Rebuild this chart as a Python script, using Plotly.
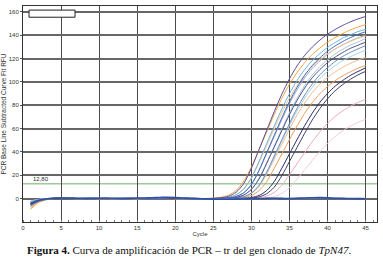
import plotly.graph_objects as go

cycles = list(range(1, 46))
threshold = 12.80
x_ticks = [0, 5, 10, 15, 20, 25, 30, 35, 40, 45]
y_ticks = [0, 20, 40, 60, 80, 100, 120, 140, 160]

curve_A = [-4.0,-1.5,-0.4,0.3,0.5,0.3,0.1,0.0,0.2,0.1,-0.1,0.0,0.2,0.3,0.1,0.0,-0.2,0.0,0.1,0.2,0.0,0.1,0.0,0.1,
           0.3,0.8,2.0,5.5,13.0,26.0,42.0,58.3,74.5,89.5,102.6,113.7,122.7,129.8,135.8,140.8,144.9,148.4,151.4,153.9,156.0]
curve_B = [-9.0,-3.5,-1.0,0.3,0.6,0.4,0.2,0.1,0.0,0.2,0.1,-0.1,0.0,0.2,0.1,0.0,0.1,0.2,0.0,-0.1,0.1,0.2,0.1,0.2,
           0.4,1.2,3.0,7.0,15.0,27.0,42.0,57.0,72.0,86.0,98.0,108.0,116.5,123.5,129.0,134.0,138.0,141.5,144.5,147.0,149.0]
curve_C = [-7.0,-2.8,-0.8,0.1,0.3,0.2,0.0,0.1,0.2,0.0,-0.1,0.1,0.2,0.1,0.0,0.1,0.2,0.0,0.1,0.0,0.1,0.2,0.0,0.1,
           0.1,0.45,1.2,3.2,8.1,17.2,30.7,45.2,59.6,73.6,86.2,97.1,106.1,113.3,119.2,124.2,128.2,131.8,134.5,137.3,139.0]
curve_D = [-3.5,-1.2,-0.2,0.3,0.4,0.2,0.1,0.2,0.3,0.1,0.0,-0.1,0.1,0.2,0.2,0.0,-0.1,0.1,0.2,0.1,0.0,0.0,0.1,0.1,
           0.1,0.5,1.2,3.3,8.5,17.9,32.0,47.1,62.1,76.7,89.9,101.2,110.6,118.2,124.3,129.5,133.7,137.5,140.3,143.1,145.0]
curve_E = [-4.5,-1.8,-0.5,0.2,0.4,0.3,0.2,0.0,0.1,0.2,0.1,0.0,0.0,0.1,0.2,0.1,0.0,-0.1,0.0,0.2,0.1,0.0,-0.1,0.0,
           0.0,0.3,0.7,1.9,5.1,12.1,24.3,39.3,54.2,69.2,83.2,95.3,105.6,114.0,120.6,126.2,130.8,134.6,137.9,140.7,143.0]
curve_F = [-2.5,-0.8,0.0,0.3,0.2,0.1,0.0,0.1,0.2,0.2,0.0,-0.1,0.0,0.1,0.1,0.2,0.1,0.0,0.0,0.1,0.2,0.1,0.0,0.0,
           0.0,0.3,0.7,1.8,5.0,11.9,23.8,38.4,53.1,67.7,81.4,93.3,103.4,111.6,118.0,123.5,128.1,131.8,135.0,137.7,140.0]
curve_G = [-3.0,-1.0,-0.2,0.2,0.3,0.2,0.1,0.0,0.1,0.0,0.1,0.2,0.1,0.0,-0.1,0.0,0.1,0.1,0.2,0.0,-0.1,0.0,0.1,0.0,
           0.0,0.1,0.45,1.2,3.2,8.1,17.1,30.6,45.1,59.5,73.4,86.0,96.9,105.9,113.1,118.9,123.9,127.9,131.5,134.2,137.0]
curve_H = [-5.0,-2.0,-0.6,0.1,0.3,0.3,0.2,0.1,0.0,0.1,0.2,0.1,0.0,0.1,0.0,-0.1,0.0,0.2,0.1,0.0,0.1,0.0,0.0,0.1,
           0.0,0.1,0.4,1.1,3.1,7.9,16.8,30.0,44.1,58.2,71.9,84.2,94.8,103.6,110.6,116.4,121.2,125.2,128.7,131.4,134.0]
curve_I = [-4.2,-1.6,-0.4,0.2,0.3,0.2,0.0,0.1,0.1,0.2,0.1,0.0,-0.1,0.0,0.1,0.2,0.1,0.0,0.1,0.1,0.0,0.1,0.0,0.0,
           0.0,0.0,0.3,0.7,1.7,4.8,11.3,22.6,36.5,50.5,64.4,77.4,88.7,98.3,106.1,112.2,117.5,121.8,125.3,128.3,131.0]
curve_J = [-2.0,-0.6,0.0,0.2,0.3,0.3,0.1,0.0,0.1,0.1,0.2,0.0,0.0,0.1,0.2,0.1,0.0,0.0,0.1,0.2,0.1,0.0,0.1,0.0,
           0.0,0.0,0.3,0.7,1.7,4.6,11.0,21.9,35.4,49.0,62.5,75.1,86.1,95.4,103.0,108.9,113.9,118.2,121.5,124.5,127.0]
curve_K = [-8.0,-3.0,-0.9,0.2,0.5,0.3,0.1,0.0,0.2,0.1,0.0,0.1,0.2,0.0,-0.1,0.1,0.2,0.1,0.0,0.1,0.1,0.0,0.1,0.0,
           0.0,0.0,0.2,0.6,1.6,4.4,10.5,20.9,33.8,46.6,59.5,71.6,82.0,90.9,98.1,103.7,108.5,112.6,115.8,118.6,121.0]
curve_L = [-6.0,-2.3,-0.7,0.2,0.4,0.2,0.1,0.1,0.0,0.2,0.1,0.0,0.1,0.1,0.0,0.2,0.1,0.0,-0.1,0.1,0.0,0.1,0.0,0.0,
           0.0,0.0,0.1,0.4,1.0,2.7,6.9,14.5,26.0,38.3,50.5,62.3,73.1,82.2,89.9,96.0,101.0,105.2,108.6,111.7,114.0]
curve_M = [-3.8,-1.4,-0.3,0.2,0.3,0.1,0.0,0.1,0.2,0.1,0.0,0.1,0.0,0.2,0.1,0.0,0.1,0.0,0.0,0.1,0.2,0.1,0.0,0.0,
           0.0,0.0,0.0,0.1,0.4,1.0,2.7,6.9,14.6,26.1,38.4,50.6,62.5,73.2,82.5,90.1,96.3,101.2,105.5,108.9,112.0]
curve_N = [-4.8,-1.9,-0.5,0.1,0.3,0.2,0.1,0.0,0.1,0.0,0.1,0.2,0.1,0.0,0.0,0.1,0.2,0.1,0.0,0.0,0.1,0.0,0.1,0.0,
           0.0,0.0,0.0,0.0,0.2,0.6,1.5,4.2,9.8,19.7,31.8,43.9,56.0,67.4,77.2,85.5,92.4,97.7,102.2,106.0,109.0]
curve_O = [-6.5,-2.5,-0.7,0.1,0.3,0.2,0.2,0.1,0.0,0.1,0.0,0.1,0.2,0.1,0.0,0.0,0.1,0.1,0.0,0.2,0.1,0.0,0.0,0.1,
           0.0,0.0,0.0,0.0,0.1,0.3,0.8,2.1,5.4,11.4,20.4,30.0,39.5,48.8,57.2,64.4,70.4,75.2,79.1,82.4,85.0]
curve_P = [-5.2,-2.0,-0.5,0.2,0.3,0.1,0.0,0.1,0.1,0.0,0.1,0.2,0.0,0.1,0.1,0.0,0.0,0.1,0.2,0.1,0.0,0.1,0.0,0.0,
           0.0,0.0,0.0,0.0,0.0,0.0,0.2,0.6,1.7,4.5,9.4,16.8,24.7,32.6,40.3,47.2,53.2,58.1,62.1,65.3,68.0]

neg_1 = [-4.5,-1.5,-0.3,0.3,0.5,0.6,0.4,0.3,0.2,0.4,0.5,0.3,0.2,0.3,0.5,0.6,0.8,1.0,1.2,1.0,0.6,0.3,0.1,-0.2,-0.4,
         -0.5,-0.5,-0.4,-0.3,-0.1,0.1,0.2,0.3,0.2,0.1,0.3,0.6,0.8,0.9,0.7,0.4,0.2,0.1,0.0,-0.1]
neg_2 = [-6.5,-2.5,-0.8,0.1,0.4,0.2,0.0,-0.1,0.1,0.3,0.2,0.0,-0.2,0.0,0.2,0.4,0.3,0.5,0.8,0.6,0.2,0.0,-0.2,-0.3,-0.2,
         0.0,0.2,0.1,-0.1,-0.2,0.0,0.3,0.4,0.2,0.0,-0.1,0.2,0.5,0.6,0.3,0.0,-0.2,-0.1,0.1,0.2]
neg_3 = [-3.0,-1.0,0.0,0.4,0.6,0.5,0.3,0.5,0.6,0.4,0.2,0.1,0.3,0.5,0.4,0.2,0.0,0.3,0.6,0.9,0.7,0.4,0.2,0.0,-0.2,
         -0.3,-0.1,0.1,0.3,0.4,0.2,0.0,-0.1,0.1,0.3,0.5,0.4,0.2,0.4,0.6,0.5,0.3,0.1,0.2,0.3]

series = [
    (curve_P, "#f5ccd6", 1.0), (curve_O, "#eeaabd", 1.0),
    (curve_K, "#f3bb8e", 1.0), (curve_L, "#ec9c5a", 1.0),
    (curve_J, "#a3d6ec", 1.0), (curve_G, "#a9c6e2", 1.0),
    (curve_F, "#a3a3cc", 1.0), (curve_C, "#f7cc8c", 1.0),
    (curve_D, "#6fb0df", 1.0), (curve_I, "#6e8cbc", 1.0),
    (curve_E, "#3d6cc0", 1.0), (curve_H, "#4a5280", 1.0),
    (curve_B, "#f2a541", 1.0), (curve_A, "#5b4b9b", 1.0),
    (curve_N, "#3d3d66", 1.0), (curve_M, "#282a66", 1.0),
    (neg_3, "#8898d0", 1.0), (neg_2, "#5d7fc4", 1.0), (neg_1, "#2f4fa6", 1.6),
]

fig = go.Figure()
for vals, col, w in series:
    fig.add_trace(go.Scatter(x=cycles, y=vals, mode="lines",
                             line=dict(color=col, width=w, shape="spline", smoothing=0.8),
                             hoverinfo="skip"))

fig.add_hline(y=threshold, line=dict(color="#9fcb98", width=1.5), layer="below")
fig.add_annotation(x=1.0, y=threshold, text=f"{threshold:.2f}".replace(".", ","), showarrow=False,
                   xanchor="left", yanchor="bottom", yshift=0,
                   font=dict(family="Liberation Sans, Arial", size=6, color="#333"))

# empty legend box
fig.add_shape(type="rect", xref="paper", yref="paper", x0=0.017, x1=0.147, y0=0.948, y1=0.981,
              line=dict(color="#222", width=1), fillcolor="white")

fig.add_annotation(xref="paper", yref="paper", x=0.005, y=-0.13, xanchor="left", yanchor="middle",
                   showarrow=False,
                   text="<b>Figura 4.</b> Curva de amplificación de PCR – tr del gen clonado de <i>TpN47</i>.",
                   font=dict(family="Liberation Serif, DejaVu Serif, serif", size=11, color="#111"))

fig.update_layout(
    width=383, height=260,
    margin=dict(l=23, r=6, t=6, b=38),
    plot_bgcolor="white", paper_bgcolor="white",
    showlegend=False,
    font=dict(family="Liberation Sans, Arial", size=6, color="#333"),
)
fig.update_xaxes(range=[0, 46.5], tickvals=x_ticks, showgrid=True, gridcolor="#4a4a4a", gridwidth=1,
                 showline=True, linecolor="#333", linewidth=1, mirror=True, zeroline=False,
                 ticks="", tickfont=dict(size=6, color="#333"), automargin=False,
                 minor=dict(dtick=1, ticks="inside", ticklen=2, tickcolor="#777", showgrid=False),
                 title=dict(text="Cycle", font=dict(size=6, color="#333"), standoff=1))
fig.update_yaxes(range=[-20, 165], tickvals=y_ticks, showgrid=True, gridcolor="#666", gridwidth=1.5,
                 showline=True, linecolor="#333", linewidth=1, mirror=True, zeroline=False,
                 ticks="outside", ticklen=2, tickcolor="#555", tickfont=dict(size=6, color="#333"),
                 automargin=False,
                 title=dict(text="PCR Base Line Subtracted Curve Fit RFU", font=dict(size=6.5, color="#333"), standoff=1))

fig.write_html("out.html", config={"displayModeBar": False},
               post_script="document.body.style.margin='0';document.body.style.padding='0';")
